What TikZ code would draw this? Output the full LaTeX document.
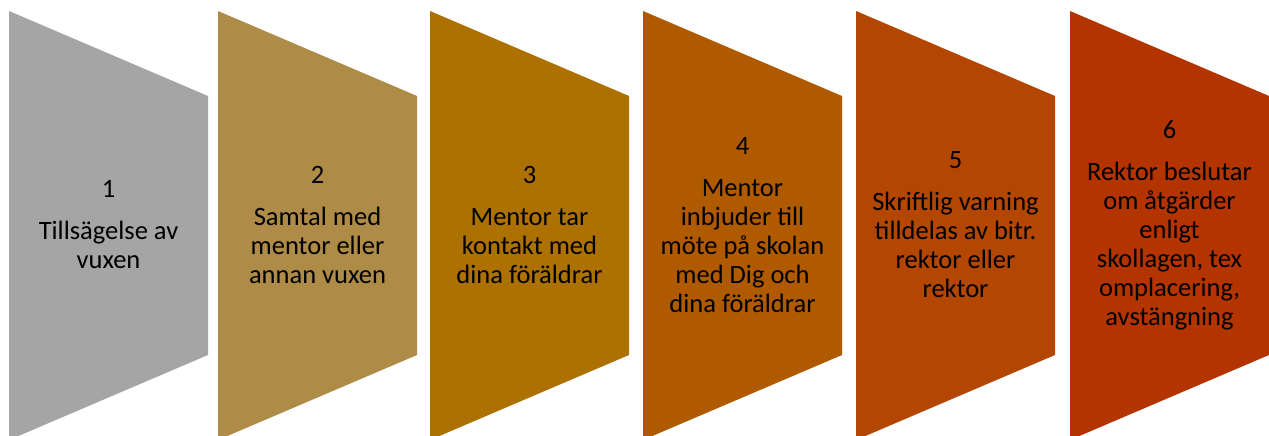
\documentclass[tikz,border=0pt]{standalone}
\usepackage{fontspec}
\setmainfont{Carlito}
\usetikzlibrary{positioning}

\definecolor{stepA}{RGB}{165,165,165}
\definecolor{stepB}{RGB}{174,139,71}
\definecolor{stepC}{RGB}{172,113,0}
\definecolor{stepD}{RGB}{176,90,0}
\definecolor{stepE}{RGB}{179,70,0}
\definecolor{stepF}{RGB}{180,52,0}

\tikzset{
  stagetext/.style={align=center,text=black,inner sep=0pt,
    font=\fontsize{26.5}{29}\selectfont}
}

\begin{document}
\begin{tikzpicture}[x=1pt,y=-1pt]

      \useasboundingbox (0,0) rectangle (1269,436);
      \clip (0,0) rectangle (1269,436);

      % the six steps
      \foreach \l/\c in {9/stepA,218/stepB,430/stepC,643/stepD,856/stepE,1070/stepF}
        \fill[\c] (\l,11) -- (\l+199,96) -- (\l+199,355) -- (\l,440) -- cycle;

      \begin{scope}[every node/.style={stagetext}]
        \node (s1) at (108.5,225)  {1\\[13pt]Tillsägelse av\\vuxen};
        \node (s2) at (317.5,225)  {2\\[13pt]Samtal med\\mentor eller\\annan vuxen};
        \node (s3) at (529.5,225)  {3\\[13pt]Mentor tar\\kontakt med\\dina föräldrar};
        \node (s4) at (742.5,225)  {4\\[13pt]Mentor\\inbjuder till\\möte på skolan\\med Dig och\\dina föräldrar};
        \node (s5) at (955.5,225)  {5\\[13pt]Skriftlig varning\\tilldelas av bitr.\\rektor eller\\rektor};
        \node (s6) at (1169.5,225) {6\\[13pt]Rektor beslutar\\om åtgärder\\enligt\\skollagen, tex\\omplacering,\\avstängning};
      \end{scope}

    \end{tikzpicture}
\end{document}
